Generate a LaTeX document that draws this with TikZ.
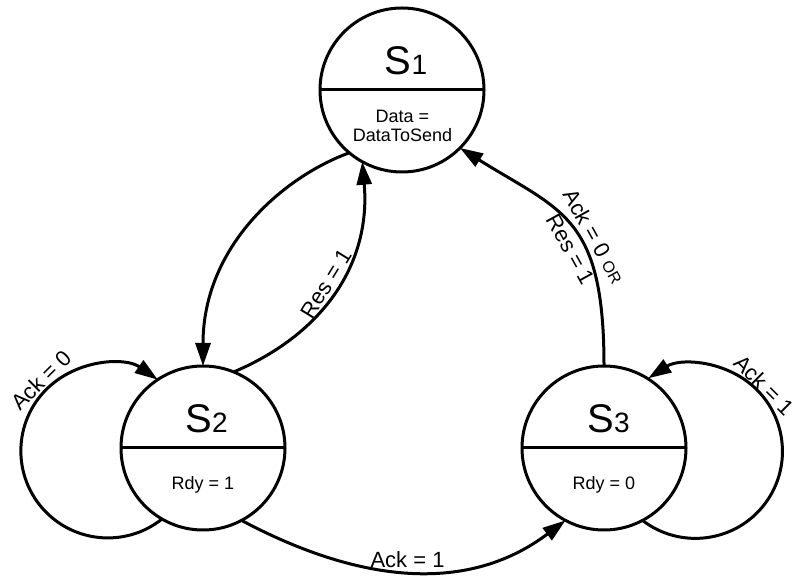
\documentclass[tikz,border=0pt]{standalone}
\usepackage{fontspec}
\setmainfont{Liberation Sans}
\usetikzlibrary{arrows.meta}
\newcommand\sdig[1]{{\fontsize{28}{28}\selectfont #1}}
\begin{document}
\begin{tikzpicture}[x=1pt,y=1pt,
  state/.style={draw, circle, line width=3pt, minimum size=164pt, inner sep=0pt, outer sep=0pt},
  divider/.style={line width=3pt},
  edge/.style={line width=3pt, -{Triangle[length=23pt,width=15pt]}},
  title/.style={anchor=base, inner sep=0pt, font=\fontsize{40}{40}\selectfont},
  body/.style={anchor=base, inner sep=0pt, font=\fontsize{18}{20}\selectfont},
  elabel/.style={font=\fontsize{22}{27}\selectfont, inner sep=2pt}]
\useasboundingbox (0,0) rectangle (795,578);
% states
\node[state] (S1) at (402,488) {};
\node[state] (S2) at (203,130) {};
\node[state] (S3) at (604,130) {};
\draw[divider] (S1.west) -- (S1.east);
\draw[divider] (S2.west) -- (S2.east);
\draw[divider] (S3.west) -- (S3.east);
\node[title] (t1) at (406,503) {S\sdig{1}};
\node[body] (b1a) at (402.5,455) {Data =};
\node[body] (b1b) at (402.5,436) {DataToSend};
\node[title] (t2) at (206.5,145) {S\sdig{2}};
\node[body] (b2) at (203,88) {Rdy = 1};
\node[title] (t3) at (608.5,145) {S\sdig{3}};
\node[body] (b3) at (604,88) {Rdy = 0};
% transitions
\draw[edge] (S1.-130) .. controls +(200:70) and +(90:120) .. (S2.north);
\draw[edge] (S2.68) .. controls +(23:100) and +(-85:100) .. (S1.-119)
  node[elabel, pos=0.5, sloped, above] (l1) {Res = 1};
\draw[edge] (S3.north) .. controls +(90:150) and +(-32:120) .. (S1.-45)
  node[elabel, pos=0.4, sloped, align=center] (l2) {Ack = 0 {\fontsize{16}{16}\selectfont OR}\\Res = 1};
\draw[edge] (S2.-62) .. controls +(-28:127) and +(-143:127) .. (S3.-118)
  node[elabel, pos=0.5, above] (l3) {Ack = 1};
% self loops
\draw[edge] (S2.-120) arc[start angle=-51.5, end angle=-305, radius=87];
\node[elabel, rotate=45] (l4) at (41,198) {Ack = 0};
\draw[edge] (S3.-62.5) arc[start angle=-127.5, end angle=122.8, radius=87];
\node[elabel, rotate=-45] (l5) at (764,193) {Ack = 1};
\end{tikzpicture}
\end{document}
